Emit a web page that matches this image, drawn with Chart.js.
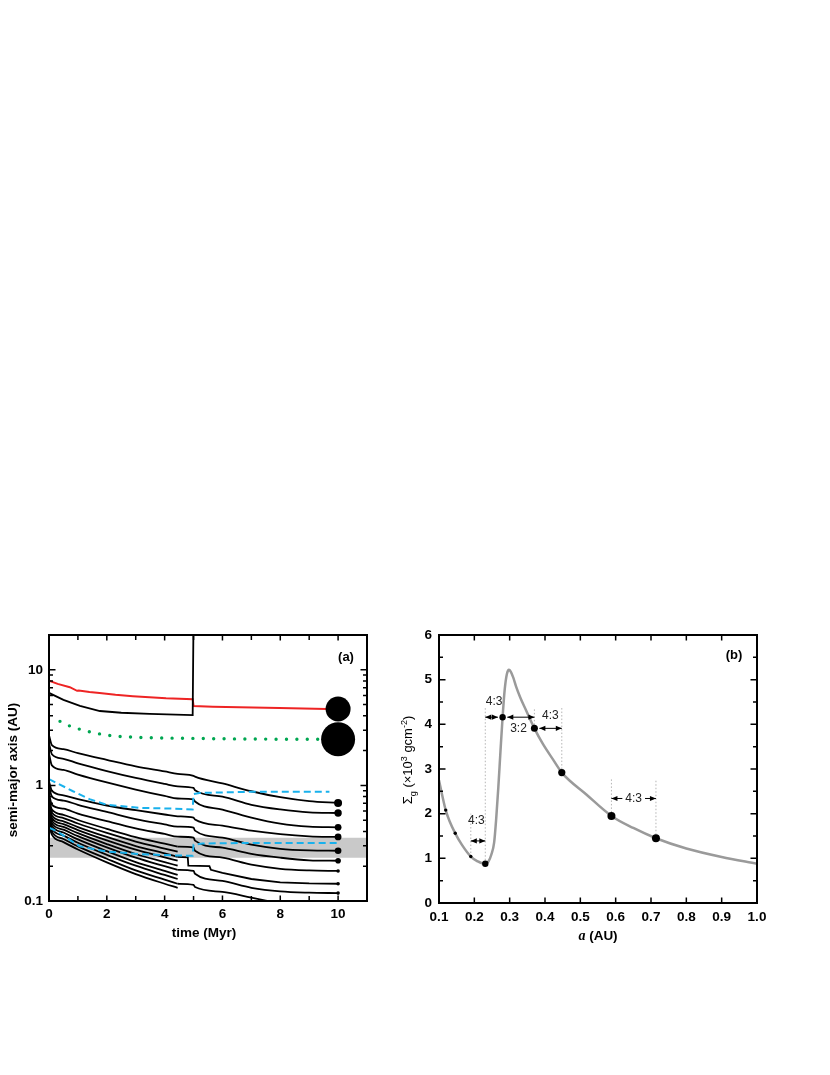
<!DOCTYPE html>
<html>
<head>
<meta charset="utf-8">
<script src="https://cdn.jsdelivr.net/npm/chart.js@4.4.1/dist/chart.umd.min.js"></script>
<style>
  body { margin: 0; background: #fff; }
  #wrap { position: relative; width: 830px; height: 1075px; }
  canvas { position: absolute; }
  #chartA { left: 0; top: 600px; }
  #chartB { left: 380px; top: 600px; }
</style>
</head>
<body>
<div id="wrap">
  <canvas id="chartA" width="380" height="346"></canvas>
  <canvas id="chartB" width="450" height="348"></canvas>
</div>
<script>
// ---------- panel (a): semi-major axis against time ----------
const tEarly = [0, 0.1, 0.5, 1, 2, 3, 4, 4.45];
const tLate = [5, 5.05, 6, 7, 8, 9, 10];

// outer embryos of the inner group, all of them reach 10 Myr
const upperEarly = [
  [2.72, 2.23, 2.06, 1.90, 1.66, 1.46, 1.32, 1.26],
  [2.32, 1.86, 1.70, 1.55, 1.33, 1.16, 1.03, 0.98],
  [1.88, 1.49, 1.36, 1.24, 1.06, 0.92, 0.81, 0.77],
  [1.08, 0.90, 0.82, 0.76, 0.67, 0.61, 0.56, 0.54],
  [0.99, 0.80, 0.74, 0.68, 0.59, 0.51, 0.46, 0.44],
  [0.85, 0.68, 0.63, 0.57, 0.49, 0.425, 0.38, 0.36]
];
const upperLate = [
  [1.21, 1.19, 1.04, 0.89, 0.79, 0.73, 0.705],
  [0.95, 0.91, 0.80, 0.68, 0.62, 0.585, 0.577],
  [0.756, 0.726, 0.618, 0.527, 0.467, 0.44, 0.434],
  [0.527, 0.506, 0.449, 0.406, 0.379, 0.363, 0.358],
  [0.431, 0.406, 0.353, 0.307, 0.283, 0.274, 0.272],
  [0.353, 0.333, 0.289, 0.256, 0.237, 0.225, 0.223]
];
const upperDot = [4, 3.7, 3.4, 3.4, 3.3, 2.8];

// crowded innermost embryos, tracks stop at 4.45 Myr
const innerEarly = [
  [0.756, 0.618, 0.557, 0.502, 0.421, 0.357, 0.313, 0.295],
  [0.712, 0.582, 0.522, 0.468, 0.388, 0.327, 0.284, 0.267],
  [0.670, 0.549, 0.489, 0.436, 0.358, 0.299, 0.258, 0.241],
  [0.637, 0.522, 0.463, 0.411, 0.335, 0.278, 0.239, 0.223],
  [0.606, 0.496, 0.437, 0.386, 0.311, 0.255, 0.217, 0.202],
  [0.577, 0.472, 0.414, 0.364, 0.291, 0.237, 0.200, 0.186],
  [0.549, 0.449, 0.391, 0.341, 0.270, 0.217, 0.182, 0.168],
  [0.516, 0.423, 0.368, 0.319, 0.251, 0.202, 0.168, 0.155],
  [0.486, 0.398, 0.344, 0.297, 0.232, 0.184, 0.153, 0.141],
  [0.458, 0.375, 0.323, 0.279, 0.216, 0.171, 0.141, 0.130]
];

// what is left of them after 4.45 Myr
const tL7 = [4.45, 5, 5.05, 6, 7, 8, 9, 10];
const aL7 = [0.295, 0.289, 0.272, 0.237, 0.206, 0.190, 0.184, 0.182];
const tL8 = [4.45, 4.8, 4.82, 5.55, 5.6, 6, 7, 8, 9, 10];
const aL8 = [0.241, 0.239, 0.202, 0.200, 0.186, 0.175, 0.155, 0.145, 0.142, 0.141];
const tL9 = [4.45, 5, 5.05, 6, 7, 8, 9, 10];
const aL9 = [0.186, 0.182, 0.172, 0.149, 0.130, 0.121, 0.118, 0.117];
const tL10 = [4.45, 5, 5.05, 6, 7, 7.75];
const aL10 = [0.141, 0.138, 0.132, 0.120, 0.107, 0.098];
const smallDot = 1.8;

// giant planets
const tRed = [0, 0.3, 0.72, 0.97, 1.03, 1.4, 1.75, 2.3, 2.9, 4.05, 4.97, 5.0, 5.67, 7.97, 9.6];
const aRed = [8.07, 7.56, 7.07, 6.58, 6.62, 6.44, 6.31, 6.07, 5.91, 5.68, 5.57, 4.87, 4.80, 4.67, 4.58];
const tEjected = [0, 0.5, 1.07, 1.76, 2.5, 3.48, 4.97, 5.0];
const aEjected = [6.31, 5.49, 4.87, 4.40, 4.25, 4.15, 4.06, 30];
const tGreen = [0.38, 0.75, 1.13, 1.5, 2.2, 3, 4, 5, 6, 7, 8, 9.3];
const aGreen = [3.58, 3.24, 3.03, 2.87, 2.68, 2.61, 2.57, 2.55, 2.53, 2.52, 2.51, 2.51];
const tGiant = [10, 10];
const aGiant = [4.58, 2.51];
const giantSize = [12.5, 17];

// dashed cyan tracks
const tCyanHi = [0, 0.3, 0.83, 1.4, 2, 3.1, 4.3, 4.97, 5.0, 5.2, 6, 7, 8, 9.7];
const aCyanHi = [1.13, 1.04, 0.89, 0.76, 0.68, 0.64, 0.63, 0.62, 0.84, 0.86, 0.87, 0.88, 0.88, 0.88];
const tCyanLo = [0, 0.3, 1.06, 1.98, 3.1, 4.28, 4.97, 5.0, 5.3, 6, 7, 8, 9, 10];
const aCyanLo = [0.431, 0.398, 0.297, 0.268, 0.255, 0.248, 0.246, 0.307, 0.314, 0.316, 0.318, 0.318, 0.318, 0.318];

// grey band
const bandT = [0, 11];
const bandLo = [0.237, 0.237];
const bandHi = [0.353, 0.353];

const xTicksA = [0, 1, 2, 3, 4, 5, 6, 7, 8, 9, 10, 11];
const xLabelsA = [0, 2, 4, 6, 8, 10];
const yTicksA = [0.1, 0.2, 0.3, 0.4, 0.5, 0.6, 0.7, 0.8, 0.9, 1, 2, 3, 4, 5, 6, 7, 8, 9, 10, 20];
const yLabelsA = [0.1, 1, 10];

// ---------- panel (b): gas surface density ----------
const aDisk = [0.1, 0.11, 0.119, 0.13, 0.146, 0.165, 0.19, 0.21, 0.22, 0.231, 0.24, 0.248, 0.256, 0.262, 0.268, 0.274, 0.28, 0.286, 0.292, 0.298, 0.303, 0.31, 0.318, 0.33, 0.346, 0.37, 0.394, 0.422, 0.4475, 0.517, 0.588, 0.65, 0.714, 0.8, 0.9, 1.0];
const sigmaDisk = [2.75, 2.38, 2.08, 1.83, 1.56, 1.30, 1.04, 0.93, 0.895, 0.88, 0.93, 1.08, 1.35, 1.9, 2.6, 3.4, 4.16, 4.78, 5.12, 5.22, 5.18, 5.05, 4.85, 4.6, 4.32, 3.91, 3.56, 3.22, 2.92, 2.43, 1.95, 1.68, 1.45, 1.22, 1.03, 0.88];
const planetA = [0.119, 0.146, 0.19, 0.231, 0.28, 0.37, 0.4475, 0.588, 0.714];
const planetSigma = [2.08, 1.56, 1.04, 0.88, 4.16, 3.91, 2.92, 1.95, 1.45];
const planetSize = [1.7, 1.7, 1.7, 3.2, 3.2, 3.5, 3.6, 4, 4];
const guideA = [0.19, 0.231, 0.37, 0.4475, 0.588, 0.714];
const guideLo = [1.04, 0.88, 3.91, 2.92, 1.95, 1.45];
const guideHi = [2.0, 4.37, 4.37, 4.37, 2.77, 2.77];
const arrowFrom = [0.19, 0.231, 0.28, 0.37, 0.588];
const arrowTo = [0.231, 0.28, 0.37, 0.4475, 0.714];
const arrowSigma = [1.39, 4.16, 4.16, 3.91, 2.34];
const ratioText = ['4:3', '4:3', '3:2', '4:3', '4:3'];
const ratioA = [0.206, 0.256, 0.325, 0.415, 0.651];
const ratioSigma = [1.84, 4.5, 3.91, 4.2, 2.34];

const xTicksB = [0.1, 0.2, 0.3, 0.4, 0.5, 0.6, 0.7, 0.8, 0.9, 1.0];
const yTicksB = [0, 0.5, 1, 1.5, 2, 2.5, 3, 3.5, 4, 4.5, 5, 5.5, 6];
const yLabelsB = [0, 1, 2, 3, 4, 5, 6];

const FONT = "'Liberation Sans', Arial, Helvetica, sans-serif";
Chart.defaults.font.family = FONT;
Chart.defaults.color = '#000';
const tickFont = { size: 13.5, weight: 'bold' };

function pts(xs, ys) {
  return xs.map((x, i) => ({ x: x, y: ys[i] }));
}

function track(data, color, dot, extra) {
  const last = data.length - 1;
  return Object.assign({
    data: data,
    borderColor: color,
    borderWidth: 1.8,
    pointRadius: c => (dot && c.dataIndex === last) ? dot : 0,
    pointBackgroundColor: '#000',
    pointBorderWidth: 0,
    cubicInterpolationMode: 'monotone',
    fill: false,
    order: 1
  }, extra || {});
}

// frame with inward ticks on all four sides, plus the panel letter
function frameTicks(xTicks, xMajor, yTicks, yMajor, letter, lx, ly) {
  return {
    id: 'frameTicks',
    afterDraw(chart) {
      const { ctx, chartArea: ca, scales: { x, y } } = chart;
      ctx.save();
      ctx.strokeStyle = '#000';
      ctx.lineWidth = 1.5;
      ctx.beginPath();
      xTicks.forEach(v => {
        const px = x.getPixelForValue(v);
        const len = xMajor.includes(v) ? 5.5 : 5;
        ctx.moveTo(px, ca.bottom); ctx.lineTo(px, ca.bottom - len);
        ctx.moveTo(px, ca.top); ctx.lineTo(px, ca.top + len);
      });
      yTicks.forEach(v => {
        const py = y.getPixelForValue(v);
        const len = yMajor.includes(v) ? 6.5 : 4;
        ctx.moveTo(ca.left, py); ctx.lineTo(ca.left + len, py);
        ctx.moveTo(ca.right, py); ctx.lineTo(ca.right - len, py);
      });
      ctx.stroke();
      ctx.lineWidth = 2;
      ctx.strokeRect(ca.left, ca.top, ca.right - ca.left, ca.bottom - ca.top);
      ctx.fillStyle = '#000';
      ctx.font = 'bold 13px ' + FONT;
      ctx.textAlign = 'center';
      ctx.textBaseline = 'middle';
      ctx.fillText(letter, ca.right - lx, ca.top + ly);
      ctx.restore();
    }
  };
}

// ---------- chart (a) ----------
const setsA = [];
setsA.push({ data: pts(bandT, bandHi), borderWidth: 0, pointRadius: 0, backgroundColor: '#c9c9c9', fill: '+1', order: 5 });
setsA.push({ data: pts(bandT, bandLo), borderWidth: 0, pointRadius: 0, fill: false, order: 5 });
upperEarly.forEach((row, i) => {
  setsA.push(track(pts(tEarly, row).concat(pts(tLate, upperLate[i])), '#000', upperDot[i]));
});
innerEarly.forEach(row => setsA.push(track(pts(tEarly, row), '#000', 0)));
setsA.push(track(pts(tL7, aL7), '#000', smallDot));
setsA.push(track(pts(tL8, aL8), '#000', smallDot, { cubicInterpolationMode: 'default', tension: 0 }));
setsA.push(track(pts(tL9, aL9), '#000', smallDot));
setsA.push(track(pts(tL10, aL10), '#000', 0));
setsA.push(track(pts(tEjected, aEjected), '#000', 0, { cubicInterpolationMode: 'default', tension: 0 }));
setsA.push(track(pts(tRed, aRed), '#ee2424', 0, { borderWidth: 2, cubicInterpolationMode: 'default', tension: 0 }));
setsA.push(track(pts(tGreen, aGreen), '#00a651', 0, { borderWidth: 3.4, borderDash: [0, 10.4], borderCapStyle: 'round' }));
setsA.push(track(pts(tCyanHi, aCyanHi), '#19b1ec', 0, { borderWidth: 2, borderDash: [7, 4], cubicInterpolationMode: 'default', tension: 0, order: 0 }));
setsA.push(track(pts(tCyanLo, aCyanLo), '#19b1ec', 0, { borderWidth: 2, borderDash: [7, 4], cubicInterpolationMode: 'default', tension: 0, order: 0 }));
setsA.push({ data: pts(tGiant, aGiant), showLine: false, pointRadius: giantSize, pointBackgroundColor: '#000', pointBorderWidth: 0, order: 0 });

const titlesA = {
  id: 'titlesA',
  afterDraw(chart) {
    const { ctx, chartArea: ca } = chart;
    ctx.save();
    ctx.fillStyle = '#000';
    ctx.font = 'bold 13.5px ' + FONT;
    ctx.textAlign = 'center';
    ctx.textBaseline = 'middle';
    ctx.fillText('time (Myr)', (ca.left + ca.right) / 2 - 4, ca.bottom + 32);
    ctx.translate(13, (ca.top + ca.bottom) / 2 + 2);
    ctx.rotate(-Math.PI / 2);
    ctx.fillText('semi-major axis (AU)', 0, 0);
    ctx.restore();
  }
};

new Chart(document.getElementById('chartA'), {
  type: 'line',
  data: { datasets: setsA },
  options: {
    responsive: false,
    animation: false,
    devicePixelRatio: 1,
    events: [],
    layout: { autoPadding: false, padding: { left: 0, right: 13, top: 35, bottom: 0 } },
    plugins: { legend: { display: false }, tooltip: { enabled: false } },
    scales: {
      x: {
        type: 'linear', min: 0, max: 11,
        grid: { display: false, drawTicks: false },
        border: { display: false },
        afterBuildTicks: s => { s.ticks = xLabelsA.map(v => ({ value: v })); },
        afterFit: s => { s.height = 45; },
        ticks: { font: tickFont, padding: 5, maxRotation: 0, autoSkip: false, callback: v => String(v) }
      },
      y: {
        type: 'logarithmic', min: 0.1, max: 20,
        grid: { display: false, drawTicks: false },
        border: { display: false },
        afterBuildTicks: s => { s.ticks = yLabelsA.map(v => ({ value: v })); },
        afterFit: s => { s.width = 49; },
        ticks: { font: tickFont, padding: 6, autoSkip: false, callback: v => String(v) }
      }
    }
  },
  plugins: [frameTicks(xTicksA, xLabelsA, yTicksA, yLabelsA, '(a)', 21, 22), titlesA]
});

// ---------- chart (b) ----------
const setsB = [];
setsB.push({ data: pts(planetA, planetSigma), showLine: false, pointRadius: planetSize, pointBackgroundColor: '#000', pointBorderWidth: 0 });
guideA.forEach((a, i) => {
  setsB.push({ data: pts([a, a], [guideLo[i], guideHi[i]]), borderColor: '#b4b4b4', borderWidth: 1, borderDash: [1.5, 2], pointRadius: 0 });
});
setsB.push({ data: pts(aDisk, sigmaDisk), borderColor: '#9a9a9a', borderWidth: 2.5, pointRadius: 0, cubicInterpolationMode: 'monotone' });

const notesB = {
  id: 'notesB',
  afterDraw(chart) {
    const { ctx, chartArea: ca, scales: { x, y } } = chart;
    ctx.save();
    ctx.fillStyle = '#000';
    ctx.strokeStyle = '#000';
    ctx.lineWidth = 1;
    ctx.font = '12px ' + FONT;
    const head = (px, py, dir) => {
      ctx.beginPath();
      ctx.moveTo(px, py);
      ctx.lineTo(px - dir * 6, py - 2.6);
      ctx.lineTo(px - dir * 6, py + 2.6);
      ctx.closePath();
      ctx.fill();
    };
    const inset = (a, s) => {
      const k = planetA.findIndex((p, j) => p === a && Math.abs(planetSigma[j] - s) < 0.05);
      return k < 0 ? 0 : planetSize[k] + 1.5;
    };
    arrowFrom.forEach((a0, i) => {
      const s = arrowSigma[i];
      const py = y.getPixelForValue(s);
      const x0 = x.getPixelForValue(a0) + inset(a0, s);
      const x1 = x.getPixelForValue(arrowTo[i]) - inset(arrowTo[i], s);
      const li = ratioSigma.findIndex((rs, j) => rs === s && ratioA[j] > a0 && ratioA[j] < arrowTo[i]);
      ctx.beginPath();
      if (li >= 0) {
        const cx = x.getPixelForValue(ratioA[li]);
        const half = ctx.measureText(ratioText[li]).width / 2 + 3;
        ctx.moveTo(x0, py); ctx.lineTo(cx - half, py);
        ctx.moveTo(cx + half, py); ctx.lineTo(x1, py);
      } else {
        ctx.moveTo(x0, py); ctx.lineTo(x1, py);
      }
      ctx.stroke();
      head(x0, py, -1);
      head(x1, py, 1);
    });
    ctx.fillStyle = '#222';
    ctx.textAlign = 'center';
    ctx.textBaseline = 'middle';
    ratioText.forEach((t, i) => ctx.fillText(t, x.getPixelForValue(ratioA[i]), y.getPixelForValue(ratioSigma[i])));

    // axis titles
    ctx.fillStyle = '#000';
    ctx.textAlign = 'left';
    ctx.textBaseline = 'alphabetic';
    const parts = [['a', 'italic bold 14px "Liberation Serif", serif', 0], [' (AU)', 'bold 13.5px ' + FONT, 0]];
    const drawRun = (runs, cx, cy) => {
      let w = 0;
      runs.forEach(r => { ctx.font = r[1]; w += ctx.measureText(r[0]).width; });
      let px = cx - w / 2;
      runs.forEach(r => { ctx.font = r[1]; ctx.fillText(r[0], px, cy + r[2]); px += ctx.measureText(r[0]).width; });
    };
    drawRun(parts, (ca.left + ca.right) / 2, ca.bottom + 37);
    ctx.translate(32, (ca.top + ca.bottom) / 2 - 9);
    ctx.rotate(-Math.PI / 2);
    const big = '13px ' + FONT, small = '9px ' + FONT;
    drawRun([['\u03A3', big, 0], ['g', small, 3.5], [' (\u00D710', big, 0], ['3', small, -5.5], [' gcm', big, 0], ['-2', small, -5.5], [')', big, 0]], 0, 0);
    ctx.restore();
  }
};

new Chart(document.getElementById('chartB'), {
  type: 'line',
  data: { datasets: setsB },
  options: {
    responsive: false,
    animation: false,
    devicePixelRatio: 1,
    events: [],
    layout: { autoPadding: false, padding: { left: 0, right: 73, top: 35, bottom: 0 } },
    plugins: { legend: { display: false }, tooltip: { enabled: false } },
    scales: {
      x: {
        type: 'linear', min: 0.1, max: 1.0,
        grid: { display: false, drawTicks: false },
        border: { display: false },
        afterBuildTicks: s => { s.ticks = xTicksB.map(v => ({ value: v })); },
        afterFit: s => { s.height = 45; },
        ticks: { font: tickFont, padding: 6, maxRotation: 0, autoSkip: false, callback: v => v.toFixed(1) }
      },
      y: {
        type: 'linear', min: 0, max: 6,
        grid: { display: false, drawTicks: false },
        border: { display: false },
        afterBuildTicks: s => { s.ticks = yLabelsB.map(v => ({ value: v })); },
        afterFit: s => { s.width = 59; },
        ticks: { font: tickFont, padding: 7, autoSkip: false, callback: v => String(v) }
      }
    }
  },
  plugins: [frameTicks(xTicksB, xTicksB, yTicksB, yLabelsB, '(b)', 23, 20), notesB]
});
</script>
</body>
</html>
